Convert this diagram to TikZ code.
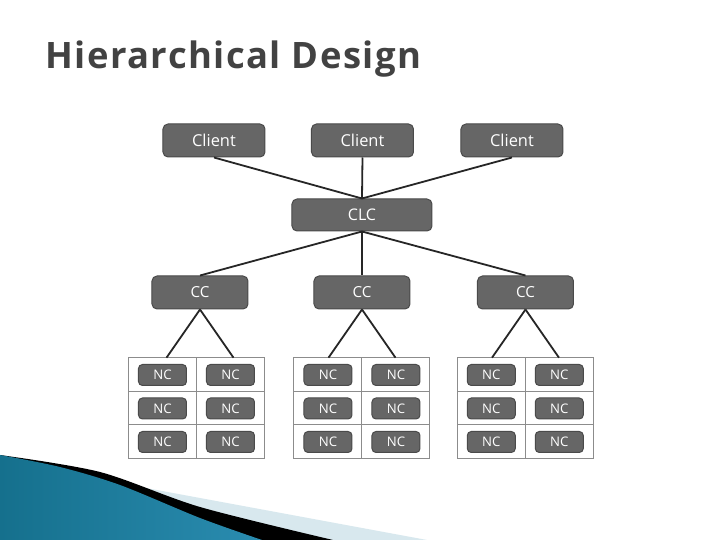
\documentclass[tikz,border=0pt]{standalone}
\usepackage{fontspec}
\setmainfont{Open Sans}
\newfontfamily\titlefont[LetterSpace=4]{Open Sans}
\usepackage{tikz}
\definecolor{boxfill}{HTML}{666666}
\definecolor{boxedge}{HTML}{4A4A4A}
\definecolor{titlegray}{HTML}{424242}
\definecolor{gridgray}{HTML}{8C8C8C}
\definecolor{bluedark}{HTML}{15708D}
\definecolor{bluelight}{HTML}{55B6DC}
\definecolor{blueend}{HTML}{2A8CB0}
\definecolor{palestrip}{HTML}{D8E8EE}

\begin{document}
\begin{tikzpicture}[x=0.5pt,y=-0.5pt]
\tikzstyle{box}=[rectangle,rounded corners=2.5pt,draw=boxedge,line width=0.5pt,fill=boxfill,text=white,inner sep=0pt]
\tikzstyle{client}=[box,minimum width=51pt,minimum height=16.5pt,font=\fontsize{8.2}{9}\selectfont]
\tikzstyle{clc}=[box,minimum width=70pt,minimum height=16pt,font=\fontsize{8}{9}\selectfont]
\tikzstyle{cc}=[box,minimum width=48pt,minimum height=16.5pt,font=\fontsize{7.6}{9}\selectfont]
\tikzstyle{nc}=[box,rounded corners=2pt,minimum width=24pt,minimum height=10.5pt,font=\fontsize{6.6}{8}\selectfont]
\tikzstyle{link}=[draw=black!85,line width=0.9pt]
\tikzstyle{grid}=[draw=gridgray,line width=0.5pt]
\useasboundingbox (0,0) rectangle (720,540);
\fill[white] (0,0) rectangle (720,540);
% corner swoosh
\fill[palestrip] (0,461) -- (427,540) -- (0,540) -- cycle;
\fill[black] plot[smooth] coordinates {(0,455) (100,472) (200,507) (333,540)} -- (0,540) -- cycle;
\shade[left color=bluedark,middle color=bluelight,right color=blueend] plot[smooth] coordinates {(0,455) (60,467) (120,485) (200,518) (262,540)} -- (0,540) -- cycle;
% title
\node[anchor=base west,inner sep=0pt,text=titlegray,font=\titlefont\bfseries\fontsize{18.2}{21}\selectfont] (title) at (45,69) {Hierarchical Design};
% clients
\node[client] (c1) at (214,140.5) {Client};
\node[client] (c2) at (362.5,140.5) {Client};
\node[client] (c3) at (512,140.5) {Client};
\node[clc] (clc) at (362,215) {CLC};
\draw[link] (c1.south) -- (clc.north);
\draw[link] (c2.south) -- (clc.north);
\draw[link] (c3.south) -- (clc.north);
% cluster controllers
\node[cc] (cc1) at (200,292.5) {CC};
\node[cc] (cc2) at (362,292.5) {CC};
\node[cc] (cc3) at (525.5,292.5) {CC};
\draw[link] (clc.south) -- (cc1.north);
\draw[link] (clc.south) -- (cc2.north);
\draw[link] (clc.south) -- (cc3.north);
% node controller grids
\foreach \g/\gx/\cx in {1/196.5/200,2/362/362,3/525.3/525.5}{
  \draw[grid] (\gx-68,357.7) rectangle (\gx+68,458.3);
  \draw[grid] (\gx,357.7) -- (\gx,458.3);
  \draw[grid] (\gx-68,391.5) -- (\gx+68,391.5);
  \draw[grid] (\gx-68,425) -- (\gx+68,425);
  \foreach \r/\ry in {1/375,2/408.5,3/442}{
    \node[nc] (nc\g\r l) at (\gx-34,\ry) {NC};
    \node[nc] (nc\g\r r) at (\gx+34,\ry) {NC};
  }
  \coordinate (t\g l) at (\cx-33.5,357.7);
  \coordinate (t\g r) at (\cx+33.5,357.7);
  \draw[link] (cc\g.south) -- (t\g l);
  \draw[link] (cc\g.south) -- (t\g r);
}
\end{tikzpicture}
\end{document}
